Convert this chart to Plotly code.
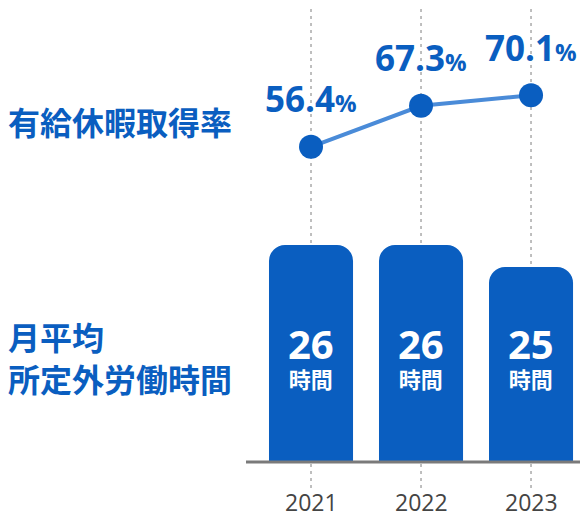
import plotly.graph_objects as go

years = ["2021", "2022", "2023"]
leave_rate = [56.4, 67.3, 70.1]
overtime_hours = [26, 26, 25]

BLUE = "#0A5EC0"
LINE_BLUE = "#4A8BD8"
NUM_FONT = "Open Sans, Noto Sans CJK JP, sans-serif"
JP_FONT = "Noto Sans CJK JP, sans-serif"

W, H = 580, 517  # page body adds an 8px margin


def py(y_page):
    """paper y from a page pixel row"""
    return 1 - (y_page - 8) / H


x_idx = list(range(len(years)))

fig = go.Figure()

fig.add_trace(go.Bar(
    x=x_idx, y=overtime_hours, yaxis="y2", width=0.764,
    marker=dict(color=BLUE, cornerradius=16, line=dict(width=0)),
    hoverinfo="skip",
))

fig.add_trace(go.Scatter(
    x=x_idx, y=leave_rate, yaxis="y", mode="lines+markers",
    line=dict(color=LINE_BLUE, width=4),
    marker=dict(color=BLUE, size=24),
    hoverinfo="skip",
))

annotations = []
for i, v in enumerate(leave_rate):
    annotations.append(dict(
        x=i, y=v, xref="x", yref="y", yshift=48,
        text=f"<b>{v:.1f}</b><b><span style='font-size:24px'>%</span></b>",
        showarrow=False, font=dict(family=NUM_FONT, size=35, color=BLUE),
        xanchor="center", yanchor="middle",
    ))
for i, v in enumerate(overtime_hours):
    annotations.append(dict(
        x=i, y=py(355), xref="x", yref="paper",
        text=f"<b><span style='font-size:40px'>{v}</span></b><br><b>時間</b>",
        showarrow=False,
        font=dict(family=NUM_FONT, size=22, color="white"),
        xanchor="center", yanchor="middle",
    ))
for i, yr in enumerate(years):
    annotations.append(dict(
        x=i, y=py(501.5), xref="x", yref="paper",
        text=yr, showarrow=False,
        font=dict(family=NUM_FONT, size=23, color="#444444"),
        xanchor="center", yanchor="middle",
    ))

# left labels
annotations.append(dict(
    x=0, y=py(121), xref="paper", yref="paper", xshift=-240,
    text="<b>有給休暇取得率</b>", showarrow=False,
    font=dict(family=JP_FONT, size=32, color=BLUE),
    xanchor="left", yanchor="middle",
))
annotations.append(dict(
    x=0, y=py(357), xref="paper", yref="paper", xshift=-240,
    text="<b>月平均</b><br><b>所定外労働時間</b>", showarrow=False, align="left",
    font=dict(family=JP_FONT, size=32, color=BLUE),
    xanchor="left", yanchor="middle",
))

shapes = []
for i in x_idx:
    shapes.append(dict(
        type="line", xref="x", yref="paper", x0=i, x1=i,
        y0=py(488), y1=1, layer="below",
        line=dict(color="#AAAAAA", width=1.5, dash="3px,4px"),
    ))
shapes.append(dict(
    type="line", xref="paper", yref="paper", x0=0, x1=1,
    y0=py(462), y1=py(462), layer="above",
    line=dict(color="#7A7A7A", width=3),
))

fig.update_layout(
    width=W, height=H,
    margin=dict(l=238, r=0, t=0, b=0),
    paper_bgcolor="white", plot_bgcolor="white",
    showlegend=False,
    xaxis=dict(range=[-0.591, 2.518], showgrid=False, zeroline=False,
               showticklabels=False, showline=False, fixedrange=True),
    yaxis=dict(domain=[py(200), 1], range=[42.27, 93.31],
               showgrid=False, zeroline=False, showticklabels=False, showline=False),
    yaxis2=dict(domain=[py(462), py(230)], range=[16.136, 26.68],
                showgrid=False, zeroline=False, showticklabels=False, showline=False),
    annotations=annotations,
    shapes=shapes,
)

fig.write_html("out.html")
